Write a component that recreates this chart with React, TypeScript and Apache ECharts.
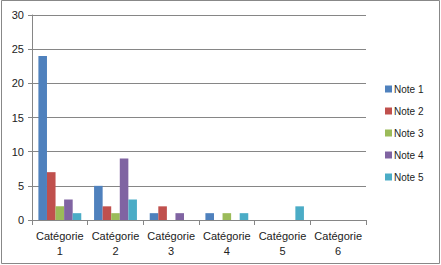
import React, { useEffect, useRef } from "react";
import * as echarts from "echarts";

const categories = ["Catégorie\n1", "Catégorie\n2", "Catégorie\n3", "Catégorie\n4", "Catégorie\n5", "Catégorie\n6"];
const seriesNames = ["Note 1", "Note 2", "Note 3", "Note 4", "Note 5"];
const note1 = [24, 5, 1, 1, 0, 0];
const note2 = [7, 2, 2, 0, 0, 0];
const note3 = [2, 1, 0, 1, 0, 0];
const note4 = [3, 9, 1, 0, 0, 0];
const note5 = [1, 3, 0, 1, 2, 0];
const colors = ["#4F81BD", "#C0504D", "#9BBB59", "#8064A2", "#4BACC6"];

export default function App() {
  const ref = useRef<HTMLDivElement>(null);
  useEffect(() => {
    document.body.style.margin = "0";
    const chart = echarts.init(ref.current!, null, { renderer: "svg" });
    const data = [note1, note2, note3, note4, note5];
    chart.setOption({
      animation: false,
      color: colors,
      textStyle: { fontFamily: "Liberation Sans" },
      graphic: [
        {
          type: "rect",
          shape: { x: 1.5, y: 0.5, width: 438, height: 263 },
          style: { fill: "none", stroke: "#888", lineWidth: 1 },
          silent: true,
        },
      ],
      grid: { left: 32, right: 75, top: 15, bottom: 45 },
      legend: {
        orient: "vertical",
        left: 380,
        top: 79,
        itemWidth: 7,
        itemHeight: 7,
        itemGap: 12,
        icon: "rect",
        textStyle: { fontSize: 10, color: "#222", padding: [0, 0, 0, -3] },
        data: seriesNames,
      },
      xAxis: {
        type: "category",
        data: categories,
        axisLine: { lineStyle: { color: "#868686" } },
        axisTick: { show: true, length: 5, lineStyle: { color: "#868686" } },
        axisLabel: { fontSize: 11, color: "#222", lineHeight: 15, margin: 8, interval: 0 },
      },
      yAxis: {
        type: "value",
        min: 0,
        max: 30,
        interval: 5,
        axisLine: { show: true, lineStyle: { color: "#868686" } },
        axisTick: { show: true, length: 4, lineStyle: { color: "#868686" } },
        axisLabel: { fontSize: 11, color: "#222", margin: 8 },
        splitLine: { lineStyle: { color: "#868686" } },
      },
      series: seriesNames.map((n, i) => ({
        name: n,
        type: "bar",
        data: data[i],
        barGap: "0%",
        barCategoryGap: "23%",
      })),
    });
    return () => chart.dispose();
  }, []);
  return <div ref={ref} style={{ position: "fixed", left: 0, top: 0, width: 441, height: 265, background: "#fff" }} />;
}
